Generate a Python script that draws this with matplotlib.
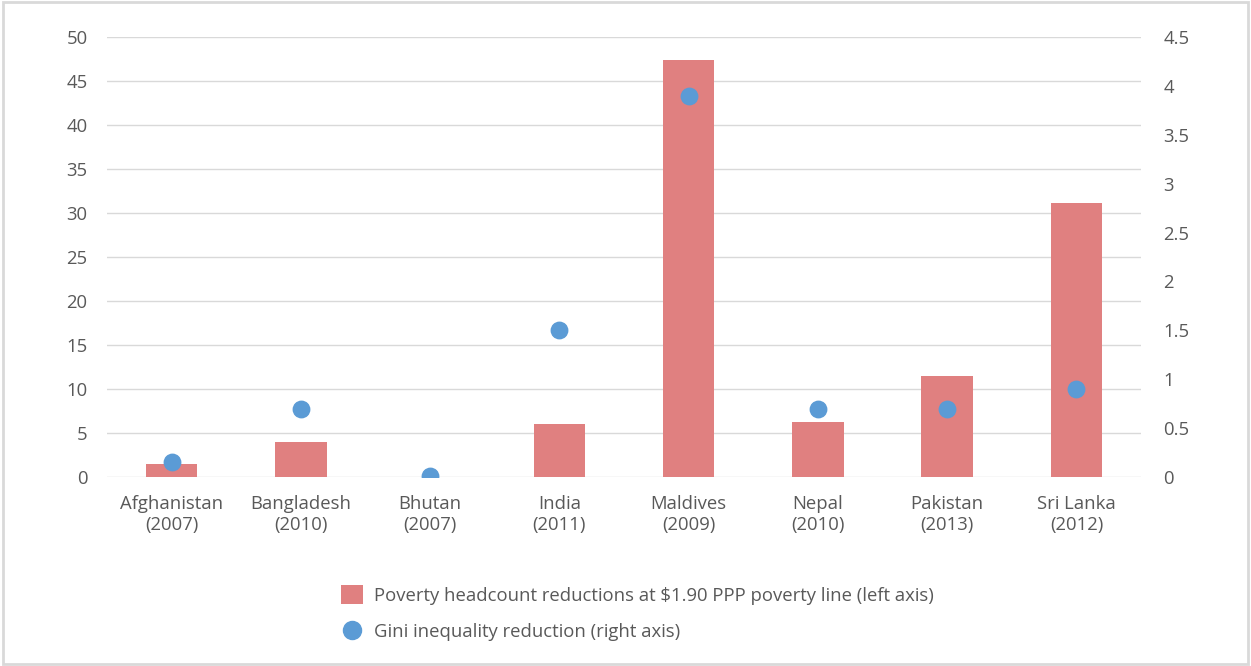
import matplotlib.pyplot as plt
from matplotlib.patches import Patch, Rectangle
from matplotlib.lines import Line2D
import numpy as np

plt.rcParams['font.family'] = ['Open Sans', 'DejaVu Sans']

countries = ["Afghanistan\n(2007)", "Bangladesh\n(2010)", "Bhutan\n(2007)", "India\n(2011)",
             "Maldives\n(2009)", "Nepal\n(2010)", "Pakistan\n(2013)", "Sri Lanka\n(2012)"]
poverty = [1.5, 4.0, 0.0, 6.0, 47.4, 6.2, 11.5, 31.1]
gini = [0.15, 0.7, 0.01, 1.5, 3.9, 0.7, 0.7, 0.9]

left_ticks = [0, 5, 10, 15, 20, 25, 30, 35, 40, 45, 50]
right_ticks = [0, 0.5, 1, 1.5, 2, 2.5, 3, 3.5, 4, 4.5]
right_labels = ["0", "0.5", "1", "1.5", "2", "2.5", "3", "3.5", "4", "4.5"]

bar_color = "#E08080"
dot_color = "#5B9BD5"
text_color = "#595959"
grid_color = "#D9D9D9"
fs = 13.3

fig = plt.figure(figsize=(12.51, 6.66), dpi=100)
ax = fig.add_axes([0.0855, 0.2838, 0.8266, 0.6606])
x = np.arange(len(countries))
ax.bar(x, poverty, width=0.4, color=bar_color, zorder=2)
ax.set_xlim(-0.5, len(countries) - 0.5)
ax.set_ylim(0, 50)
ax.set_yticks(left_ticks)
ax.set_xticks(x)
ax.set_xticklabels(countries, linespacing=1.2)
ax.grid(axis="y", color=grid_color, linewidth=1, zorder=0)
ax.set_axisbelow(True)
for s in ax.spines.values():
    s.set_visible(False)
ax.tick_params(axis="both", length=0, labelsize=fs, colors=text_color)
ax.tick_params(axis="y", pad=14)
ax.tick_params(axis="x", pad=13)

ax2 = ax.twinx()
ax2.scatter(x, gini, s=140, color=dot_color, zorder=3)
ax2.set_ylim(0, 4.5)
ax2.set_yticks(right_ticks)
ax2.set_yticklabels(right_labels)
for s in ax2.spines.values():
    s.set_visible(False)
ax2.tick_params(axis="y", length=0, labelsize=fs, colors=text_color, pad=16)

handles = [Patch(facecolor=bar_color, edgecolor="none"),
           Line2D([], [], marker="o", linestyle="none", markersize=13, color=dot_color)]
labels = ["Poverty headcount reductions at $1.90 PPP poverty line (left axis)",
          "Gini inequality reduction (right axis)"]
fig.legend(handles, labels, loc="upper left", bbox_to_anchor=(0.259, 0.146), frameon=False,
           fontsize=fs, labelcolor=text_color, handlelength=1.2, handleheight=1.2,
           handletextpad=0.6, labelspacing=0.9)

fig.patches.append(Rectangle((0.002, 0.003), 0.996, 0.994, transform=fig.transFigure,
                             fill=False, edgecolor=grid_color, linewidth=2))

fig.savefig("out.png", dpi=100)
